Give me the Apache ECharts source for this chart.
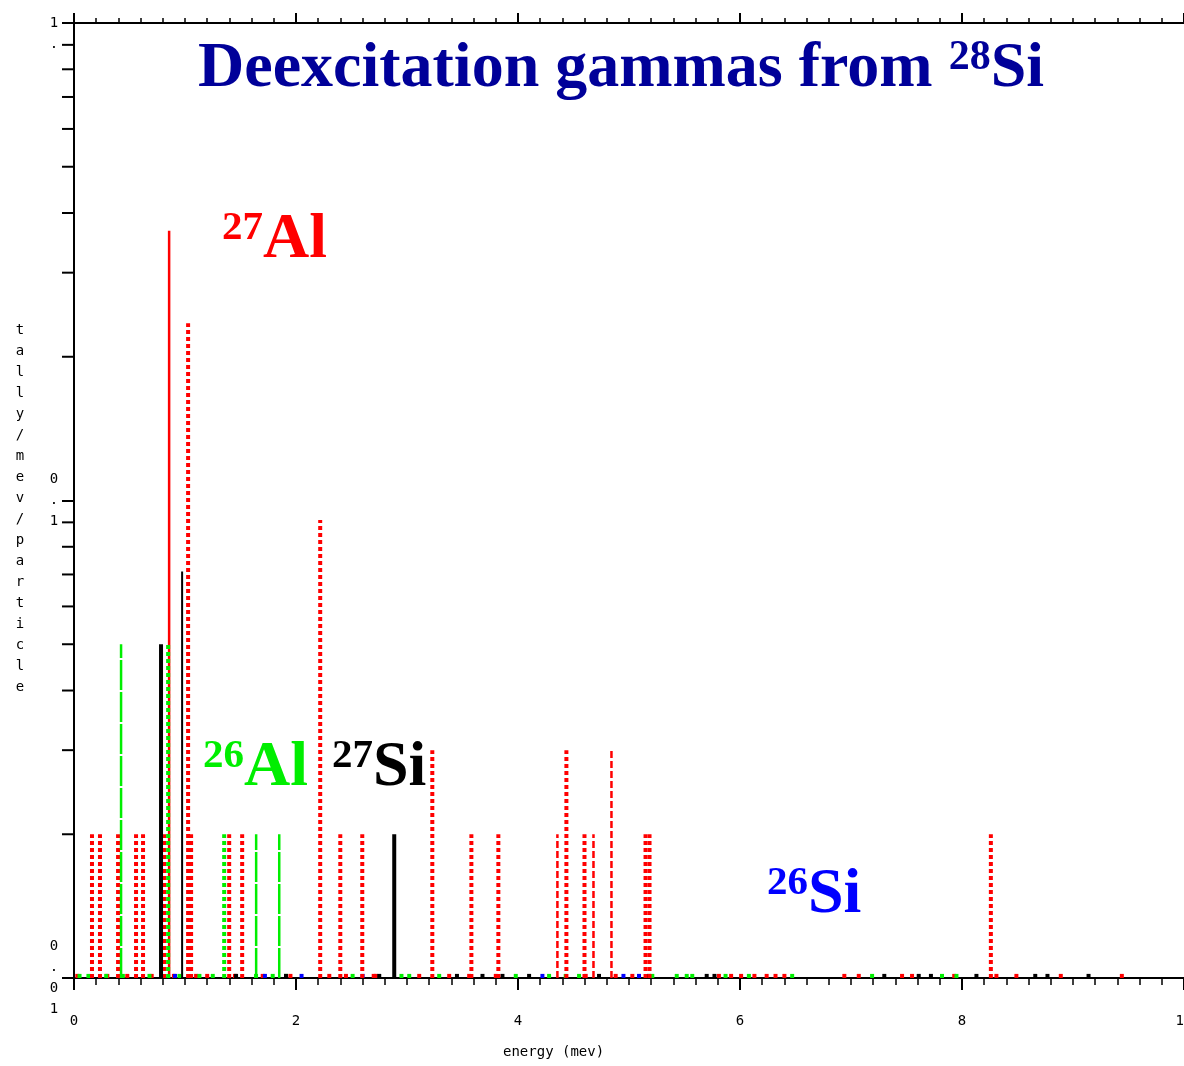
<!DOCTYPE html>
<html>
<head>
<meta charset="utf-8">
<script src="https://cdn.jsdelivr.net/npm/echarts@6/dist/echarts.min.js"></script>
<style>
  html, body { margin: 0; padding: 0; background: #fff; }
  #chart_main { width: 1184px; height: 1066px; }
</style>
</head>
<body>
<div id="chart_main"></div>
<script>
// peaks: [energy (MeV), tally/mev/particle]
var al27Dotted = [[0.162, 0.02], [0.234, 0.02], [0.397, 0.02], [0.559, 0.02], [0.622, 0.02], [0.811, 0.02],
    [1.028, 0.235], [1.055, 0.02], [1.398, 0.02], [1.515, 0.02], [2.218, 0.091], [2.399, 0.02], [2.597, 0.02],
    [3.228, 0.03], [3.58, 0.02], [3.823, 0.02], [4.436, 0.03], [4.599, 0.02], [5.149, 0.02], [5.185, 0.02], [8.26, 0.02]];
var al27Dashed = [[4.355, 0.02], [4.68, 0.02], [4.842, 0.03]];
var al27Solid = [[0.857, 0.367]];
var al26Dashed = [[0.424, 0.05], [1.641, 0.02], [1.849, 0.02]];
var al26Dotted = [[0.848, 0.05], [1.353, 0.02]];
var si27Thick = [[0.784, 0.05], [2.885, 0.02]];
var si27Thin = [[0.974, 0.071]];

// small counts sitting on the axis
var redBlips = [0.03, 0.3, 0.48, 0.7, 0.9, 1.1, 1.2, 1.45, 1.7, 1.95, 2.3, 2.45, 2.7, 2.72, 3.11, 3.38, 3.56, 3.8,
    4.61, 4.88, 5.03, 5.81, 5.92, 6.01, 6.13, 6.24, 6.32, 6.4, 6.94, 7.07, 7.46, 7.55, 7.93, 8.31, 8.49, 8.89, 9.44];
var greenBlips = [0.05, 0.13, 0.29, 0.44, 0.68, 0.95, 1.13, 1.25, 1.64, 1.79, 1.91, 2.51, 2.95, 3.02, 3.29, 3.98,
    4.28, 4.43, 4.55, 5.21, 5.43, 5.52, 5.57, 5.87, 6.08, 6.47, 7.19, 7.82, 7.95];
var blackBlips = [1.46, 1.91, 2.75, 3.45, 3.68, 3.86, 4.10, 4.73, 5.18, 5.70, 5.77, 7.30, 7.61, 7.72, 8.13, 8.66, 8.77, 9.14];
var blueBlips = [0.91, 1.72, 2.05, 2.6, 4.22, 4.95, 5.09];
var blipHeight = 0.0102;

var yMin = 0.01, yMax = 1;
var yMinorTicks = [0.02, 0.03, 0.04, 0.05, 0.06, 0.07, 0.08, 0.09, 0.2, 0.3, 0.4, 0.5, 0.6, 0.7, 0.8, 0.9];

var mono = '"DejaVu Sans Mono", monospace';
var serif = '"Liberation Serif", "Times New Roman", serif';

function spikes(name, data, color, width, dash) {
    return {
        name: name,
        type: 'custom',
        xAxisIndex: 0,
        yAxisIndex: 0,
        data: data,
        encode: { x: 0, y: 1 },
        renderItem: function (params, api) {
            var e = api.value(0);
            var p0 = api.coord([e, yMin]);
            var p1 = api.coord([e, api.value(1)]);
            return {
                type: 'line',
                shape: { x1: p0[0], y1: p0[1], x2: p1[0], y2: p1[1] },
                style: { stroke: color, lineWidth: width, lineDash: dash || null, fill: null }
            };
        },
        silent: true,
        z: 3
    };
}

function blips(name, list, color) {
    return spikes(name, list.map(function (e) { return [e, blipHeight]; }), color, 4);
}

function isotope(x, y, mass, sym, color) {
    return {
        type: 'text', x: x, y: y,
        style: {
            text: '{s|' + mass + '}{n|' + sym + '}', textVerticalAlign: 'bottom',
            rich: {
                n: { fontFamily: serif, fontWeight: 'bold', fontSize: 64, fill: color, verticalAlign: 'bottom' },
                s: { fontFamily: serif, fontWeight: 'bold', fontSize: 41, fill: color, verticalAlign: 'top' }
            }
        }
    };
}

var myChart = echarts.init(document.getElementById('chart_main'));

var option = {
    backgroundColor: '#ffffff',
    animation: false,
    grid: { left: 74, right: 0, top: 23, bottom: 88, containLabel: false, outerBoundsMode: 'none' },
    xAxis: [{
        type: 'value',
        min: 0, max: 10, interval: 2,
        axisLine: { lineStyle: { color: '#000', width: 2 } },
        axisTick: { length: 12, lineStyle: { color: '#000', width: 2 } },
        minorTick: { show: true, splitNumber: 10, length: 7, lineStyle: { color: '#000', width: 1.5 } },
        axisLabel: { margin: 36, color: '#000', fontFamily: mono, fontSize: 14 },
        splitLine: { show: false }
    }, {
        type: 'value',
        position: 'top',
        min: 0, max: 10, interval: 2,
        axisLine: { lineStyle: { color: '#000', width: 2 } },
        axisTick: { length: 10, lineStyle: { color: '#000', width: 2 } },
        minorTick: { show: true, splitNumber: 10, length: 5, lineStyle: { color: '#000', width: 1.5 } },
        axisLabel: { show: false },
        splitLine: { show: false }
    }],
    yAxis: {
        type: 'log',
        logBase: 10,
        min: yMin, max: yMax,
        axisLine: { show: true, onZero: false, lineStyle: { color: '#000', width: 2 } },
        axisTick: { show: true, length: 12, lineStyle: { color: '#000', width: 2 } },
        axisLabel: {
            margin: 20, align: 'center', color: '#000', fontFamily: mono, fontSize: 14, lineHeight: 21,
            formatter: function (v) {
                if (v >= 0.99) return '\n1\n.';
                if (v >= 0.099) return '0\n.\n1';
                return '0\n.\n0\n1';
            }
        },
        splitLine: { show: false }
    },
    series: [
        blips('red base', redBlips, '#ff0000'),
        blips('green base', greenBlips, '#00ee00'),
        blips('black base', blackBlips, '#000000'),
        blips('blue base', blueBlips, '#0000ff'),
        spikes('27Al', al27Dotted, '#ff0000', 4, [4, 3]),
        spikes('27Al dashed', al27Dashed, '#ff0000', 2.5, [7, 3]),
        spikes('27Al solid', al27Solid, '#ff0000', 2.5),
        spikes('26Al dashed', al26Dashed, '#00ee00', 2.5, [30, 2]),
        spikes('26Al dotted', al26Dotted, '#00ee00', 4, [4, 3]),
        spikes('27Si', si27Thick, '#000000', 4),
        spikes('27Si thin', si27Thin, '#000000', 2),
        {
            // log-axis minor ticks (2..9 of each decade)
            name: 'yminor',
            type: 'custom',
            xAxisIndex: 0,
            data: yMinorTicks.map(function (v) { return [0, v]; }),
            encode: { x: 0, y: 1 },
            clip: false,
            silent: true,
            renderItem: function (params, api) {
                var p = api.coord([0, api.value(1)]);
                return {
                    type: 'line',
                    shape: { x1: p[0] - 12, y1: p[1], x2: p[0], y2: p[1] },
                    style: { stroke: '#000', lineWidth: 2 }
                };
            }
        }
    ],
    graphic: [
        {
            type: 'text', x: 198, y: 101,
            style: {
                text: '{n|Deexcitation gammas from }{s|28}{n|Si}',
                textVerticalAlign: 'bottom',
                rich: {
                    n: { fontFamily: serif, fontWeight: 'bold', fontSize: 64, fill: '#000099', verticalAlign: 'bottom' },
                    s: { fontFamily: serif, fontWeight: 'bold', fontSize: 42, fill: '#000099', verticalAlign: 'top' }
                }
            }
        },
        isotope(222, 272, '27', 'Al', '#ff0000'),
        isotope(203, 800, '26', 'Al', '#00ee00'),
        isotope(332, 800, '27', 'Si', '#000000'),
        isotope(767, 927, '26', 'Si', '#0000ff'),
        {
            type: 'text', x: 503, y: 1045,
            style: { text: 'energy (mev)', fontFamily: mono, fontSize: 14, fill: '#000' }
        },
        {
            type: 'text', x: 20, y: 320,
            style: {
                text: 'tally/mev/particle'.split('').join('\n'),
                fontFamily: mono, fontSize: 14, lineHeight: 21, fill: '#000', textAlign: 'center'
            }
        }
    ]
};

myChart.setOption(option);
</script>
</body>
</html>
